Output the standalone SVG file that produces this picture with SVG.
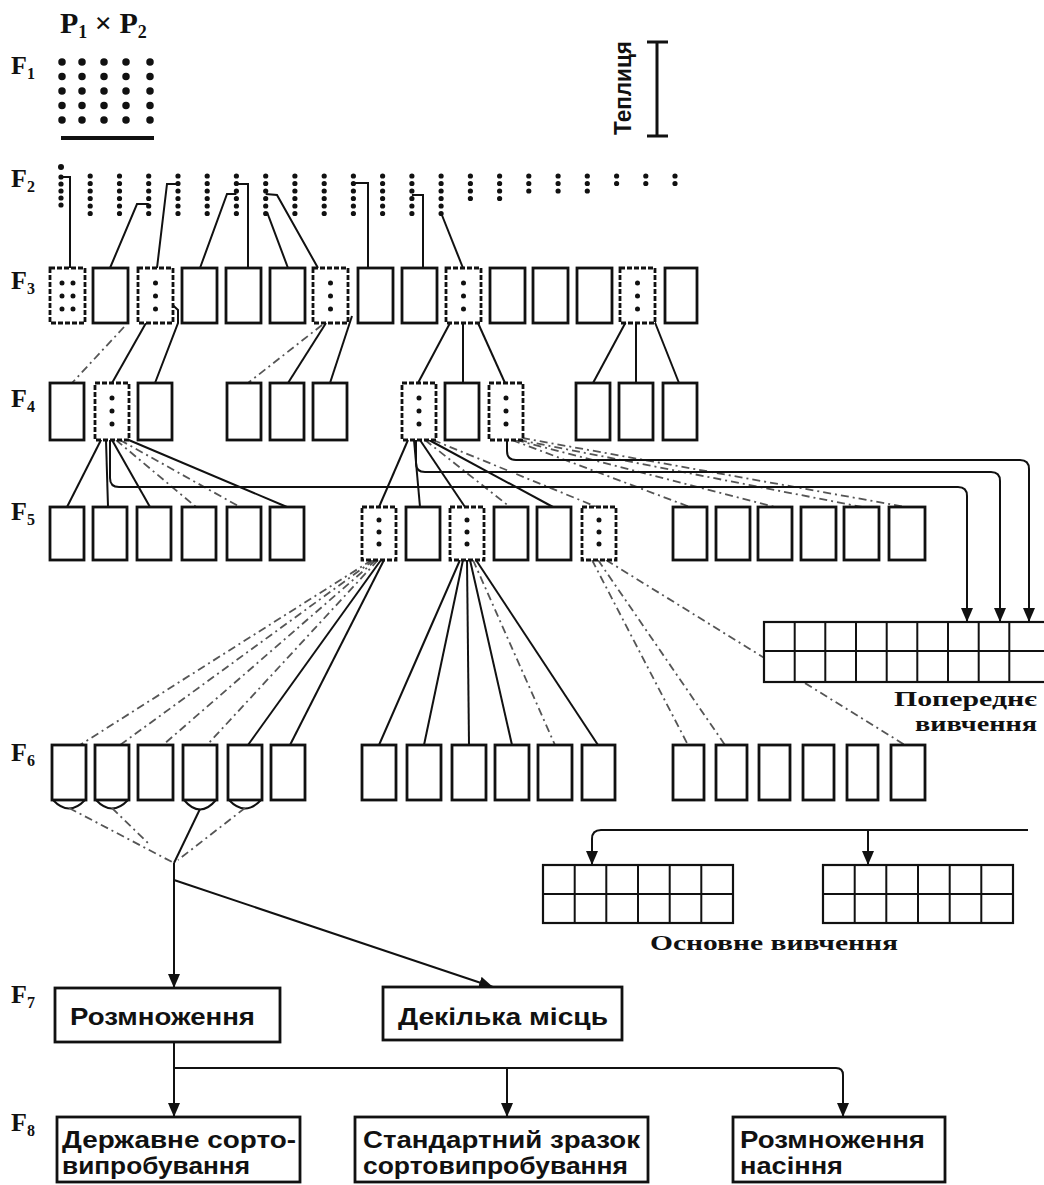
<svg xmlns="http://www.w3.org/2000/svg" width="1044" height="1185" viewBox="0 0 1044 1185">
<defs>
<style>
.bx{fill:#fff;stroke:#111;stroke-width:2.8}
.db{fill:#fff;stroke:#111;stroke-width:2.8;stroke-dasharray:5 2}
.dt{fill:none;stroke:#111;stroke-linecap:round}
.ln{fill:none;stroke:#111;stroke-width:2}
.dl{fill:none;stroke:#555;stroke-width:1.8;stroke-dasharray:8 4 2 4}
.ar{fill:none;stroke:#111;stroke-width:2;marker-end:url(#ah)}
.lab{font-family:"Liberation Serif",serif;font-weight:bold;font-size:26px;fill:#111}
.sub{font-size:16px}
.pp{font-size:30px}
.pp .sub{font-size:18px}
.bt{font-family:"Liberation Sans Narrow","Liberation Sans",sans-serif;font-weight:bold;font-size:24px;fill:#111}
.cap{font-family:"Liberation Serif",serif;font-weight:bold;font-size:22px;fill:#111}
.gr{fill:#fff;stroke:#111;stroke-width:2.2}
</style>
<marker id="ah" viewBox="0 0 14 12" refX="14" refY="6" markerWidth="14" markerHeight="12" markerUnits="userSpaceOnUse" orient="auto"><path d="M0,0 L14,6 L0,12 Z" fill="#111"/></marker>
</defs>
<rect width="1044" height="1185" fill="#fff"/>

<!-- generation labels -->
<g id="labels">
<text class="lab pp" x="60" y="33">P<tspan class="sub" dy="5">1</tspan><tspan dy="-5"> × P</tspan><tspan class="sub" dy="5">2</tspan></text>
<text class="lab" x="11" y="74">F<tspan class="sub" dy="5">1</tspan></text>
<text class="lab" x="11" y="187">F<tspan class="sub" dy="5">2</tspan></text>
<text class="lab" x="11" y="289">F<tspan class="sub" dy="5">3</tspan></text>
<text class="lab" x="11" y="407">F<tspan class="sub" dy="5">4</tspan></text>
<text class="lab" x="11" y="520">F<tspan class="sub" dy="5">5</tspan></text>
<text class="lab" x="11" y="761">F<tspan class="sub" dy="5">6</tspan></text>
<text class="lab" x="11" y="1003">F<tspan class="sub" dy="5">7</tspan></text>
<text class="lab" x="11" y="1131">F<tspan class="sub" dy="5">8</tspan></text>
</g>

<!-- F1 -->
<g id="f1">
<g class="dt" stroke-width="7.5" stroke-dasharray="0 14.5">
<line x1="62" y1="62" x2="62" y2="120.1"/>
<line x1="82" y1="62" x2="82" y2="120.1"/>
<line x1="104" y1="62" x2="104" y2="120.1"/>
<line x1="126" y1="62" x2="126" y2="120.1"/>
<line x1="150" y1="62" x2="150" y2="120.1"/>
</g>
<line x1="61" y1="138" x2="154" y2="138" stroke="#111" stroke-width="4"/>
</g>

<!-- Greenhouse -->
<g id="greenhouse">
<text class="bt" font-size="21" transform="translate(631,88) rotate(-90)" text-anchor="middle" textLength="94" lengthAdjust="spacingAndGlyphs">Теплиця</text>
<path d="M647,42 H668 M657,42 V136 M647,136 H668" fill="none" stroke="#111" stroke-width="3"/>
</g>

<!-- F2 -->
<g id="f2" class="dt" stroke-width="5.2">
<circle cx="61" cy="167" r="3" fill="#111" stroke="none"/>
<line x1="61" y1="177" x2="61" y2="205.1" stroke-dasharray="0 7"/>
<g stroke-dasharray="0 7.5">
<line x1="90.2" y1="176" x2="90.2" y2="213.6"/>
<line x1="119.5" y1="176" x2="119.5" y2="213.6"/>
<line x1="148.7" y1="176" x2="148.7" y2="213.6"/>
<line x1="178" y1="176" x2="178" y2="213.6"/>
<line x1="207.2" y1="176" x2="207.2" y2="213.6"/>
<line x1="236.4" y1="176" x2="236.4" y2="213.6"/>
<line x1="265.7" y1="176" x2="265.7" y2="213.6"/>
<line x1="294.9" y1="176" x2="294.9" y2="213.6"/>
<line x1="324.2" y1="176" x2="324.2" y2="213.6"/>
<line x1="353.4" y1="176" x2="353.4" y2="213.6"/>
<line x1="382.6" y1="176" x2="382.6" y2="213.6"/>
<line x1="411.9" y1="176" x2="411.9" y2="213.6"/>
<line x1="441.1" y1="176" x2="441.1" y2="213.6"/>
<line x1="470.4" y1="176" x2="470.4" y2="198.6"/>
<line x1="499.6" y1="176" x2="499.6" y2="198.6"/>
<line x1="528.8" y1="176" x2="528.8" y2="191.1"/>
<line x1="558.1" y1="176" x2="558.1" y2="191.1"/>
<line x1="587.3" y1="176" x2="587.3" y2="191.1"/>
<line x1="616.6" y1="176" x2="616.6" y2="183.6"/>
<line x1="645.8" y1="176" x2="645.8" y2="183.6"/>
<line x1="675" y1="176" x2="675" y2="183.6"/>
</g>
</g>

<!-- connectors -->
<g id="connectors">
<!-- F2 to F3 -->
<g class="ln">
<polyline points="61,177 70,177 70,268"/>
<polyline points="148.7,204 137,204 110,268"/>
<polyline points="178,184 167,184 157,268"/>
<polyline points="236.4,194 227,194 200,268"/>
<polyline points="236.4,184 248,184 248,268"/>
<polyline points="265.7,194 277,195 318,268"/>
<polyline points="267,212 288,268"/>
<polyline points="353.4,183 368,183 368,268"/>
<polyline points="411.9,195 423,195 423,268"/>
<polyline points="441.1,213 463,268"/>
</g>
<!-- F3 to F4 -->
<g class="ln">
<line x1="146" y1="323" x2="112" y2="383"/>
<polyline points="165,298 178,310 178,323 155,383"/>
<line x1="326" y1="323" x2="288" y2="383"/>
<line x1="352" y1="316" x2="330" y2="383"/>
<line x1="450" y1="323" x2="418" y2="383"/>
<line x1="463" y1="323" x2="463" y2="383"/>
<line x1="478" y1="323" x2="505" y2="383"/>
<line x1="628" y1="318" x2="593" y2="383"/>
<line x1="636" y1="323" x2="636" y2="383"/>
<line x1="654" y1="320" x2="679" y2="383"/>
</g>
<g class="dl">
<line x1="124" y1="327" x2="72" y2="383"/>
<line x1="322" y1="325" x2="248" y2="383"/>
</g>
<!-- F4 to F5 -->
<g class="ln">
<line x1="102" y1="438" x2="67" y2="507"/>
<line x1="106" y1="440" x2="108" y2="507"/>
<line x1="112" y1="440" x2="150" y2="507"/>
<line x1="124" y1="438" x2="287" y2="507"/>
<line x1="408" y1="440" x2="379" y2="507"/>
<line x1="414" y1="440" x2="420" y2="507"/>
<line x1="420" y1="440" x2="465" y2="507"/>
<line x1="429" y1="440" x2="553" y2="507"/>
</g>
<g class="dl">
<line x1="116" y1="440" x2="196" y2="507"/>
<line x1="120" y1="440" x2="240" y2="507"/>
<line x1="425" y1="440" x2="510" y2="507"/>
<line x1="433" y1="440" x2="597" y2="507"/>
<line x1="512" y1="440" x2="690" y2="507"/>
<line x1="516" y1="440" x2="775" y2="507"/>
<line x1="519" y1="440" x2="862" y2="507"/>
<line x1="522" y1="438" x2="906" y2="507"/>
</g>
<!-- to preliminary study -->
<path class="ar" d="M110,440 V478 Q110,487 119,487 H958 Q967,487 967,496 V622"/>
<path class="ar" d="M416,440 V463 Q416,472 425,472 H991 Q1000,472 1000,481 V622"/>
<path class="ar" d="M507,440 V451 Q507,460 516,460 H1020 Q1029,460 1029,469 V622"/>
<!-- F5 to F6 -->
<g class="dl">
<line x1="372" y1="560" x2="80" y2="745"/>
<line x1="374" y1="560" x2="120" y2="745"/>
<line x1="376" y1="560" x2="163" y2="745"/>
<line x1="378" y1="560" x2="207" y2="745"/>
<line x1="473" y1="560" x2="555" y2="745"/>
<line x1="592" y1="560" x2="688" y2="745"/>
<line x1="598" y1="560" x2="725" y2="745"/>
<line x1="606" y1="560" x2="905" y2="745"/>
</g>
<g class="ln">
<line x1="381" y1="560" x2="248" y2="745"/>
<line x1="384" y1="560" x2="290" y2="745"/>
<line x1="460" y1="560" x2="379" y2="745"/>
<line x1="463" y1="560" x2="424" y2="745"/>
<line x1="467" y1="560" x2="469" y2="745"/>
<line x1="470" y1="560" x2="512" y2="745"/>
<line x1="476" y1="560" x2="598" y2="745"/>
</g>
<!-- F6 to F7 -->
<g class="ln">
<path d="M53,800 Q69,817 85,800"/>
<path d="M96,800 Q112,817 128,800"/>
<path d="M184,800 Q200,819 216,800"/>
<path d="M229,800 Q245,817 261,800"/>
<line x1="200" y1="809" x2="174" y2="863"/>
</g>
<g class="dl" stroke="#222">
<line x1="69" y1="808" x2="174" y2="863"/>
<line x1="112" y1="808" x2="150" y2="845"/>
<line x1="245" y1="808" x2="178" y2="860"/>
</g>
<path class="ar" d="M174,863 V988"/>
<path class="ar" d="M174,880 L493,987"/>
<!-- F7 to F8 -->
<path class="ar" d="M174,1042 V1117"/>
<path class="ln" d="M174,1068 H836 Q843,1068 843,1075"/>
<path class="ar" d="M843,1075 V1117"/>
<path class="ar" d="M507,1068 V1117"/>
<!-- to main study -->
<path class="ar" d="M1028,830 H601 Q592,830 592,839 V865"/>
<path class="ar" d="M868,830 V865"/>
</g>

<!-- F3 -->
<g id="f3">
<rect class="db" x="50" y="268" width="35" height="55"/>
<rect class="bx" x="93" y="268" width="35" height="55"/>
<rect class="db" x="138" y="268" width="35" height="55"/>
<rect class="bx" x="182" y="268" width="35" height="55"/>
<rect class="bx" x="226" y="268" width="35" height="55"/>
<rect class="bx" x="270" y="268" width="35" height="55"/>
<rect class="db" x="313" y="268" width="35" height="55"/>
<rect class="bx" x="358" y="268" width="35" height="55"/>
<rect class="bx" x="402" y="268" width="35" height="55"/>
<rect class="db" x="446" y="268" width="35" height="55"/>
<rect class="bx" x="490" y="268" width="35" height="55"/>
<rect class="bx" x="533" y="268" width="35" height="55"/>
<rect class="bx" x="577" y="268" width="35" height="55"/>
<rect class="db" x="620" y="268" width="35" height="55"/>
<rect class="bx" x="665" y="268" width="32" height="55"/>
<g class="dt" stroke-width="5" stroke-dasharray="0 13">
<line x1="62" y1="283" x2="62" y2="309.1"/>
<line x1="73" y1="283" x2="73" y2="309.1"/>
<line x1="155.5" y1="283" x2="155.5" y2="309.1"/>
<line x1="330.5" y1="283" x2="330.5" y2="309.1"/>
<line x1="463.5" y1="283" x2="463.5" y2="309.1"/>
<line x1="637.5" y1="283" x2="637.5" y2="309.1"/>
</g>
</g>

<!-- F4 -->
<g id="f4">
<rect class="bx" x="50" y="383" width="34" height="57"/>
<rect class="db" x="95" y="383" width="34" height="57"/>
<rect class="bx" x="138" y="383" width="34" height="57"/>
<rect class="bx" x="227" y="383" width="34" height="57"/>
<rect class="bx" x="270" y="383" width="34" height="57"/>
<rect class="bx" x="313" y="383" width="34" height="57"/>
<rect class="db" x="402" y="383" width="34" height="57"/>
<rect class="bx" x="445" y="383" width="34" height="57"/>
<rect class="db" x="489" y="383" width="34" height="57"/>
<rect class="bx" x="576" y="383" width="34" height="57"/>
<rect class="bx" x="619" y="383" width="34" height="57"/>
<rect class="bx" x="663" y="383" width="34" height="57"/>
<g class="dt" stroke-width="5" stroke-dasharray="0 13">
<line x1="112" y1="398" x2="112" y2="424.1"/>
<line x1="419" y1="398" x2="419" y2="424.1"/>
<line x1="506" y1="398" x2="506" y2="424.1"/>
</g>
</g>

<!-- F5 -->
<g id="f5">
<rect class="bx" x="50" y="507" width="34" height="53"/>
<rect class="bx" x="93" y="507" width="34" height="53"/>
<rect class="bx" x="137" y="507" width="34" height="53"/>
<rect class="bx" x="182" y="507" width="34" height="53"/>
<rect class="bx" x="227" y="507" width="34" height="53"/>
<rect class="bx" x="270" y="507" width="34" height="53"/>
<rect class="db" x="362" y="507" width="34" height="53"/>
<rect class="bx" x="406" y="507" width="34" height="53"/>
<rect class="db" x="450" y="507" width="34" height="53"/>
<rect class="bx" x="494" y="507" width="34" height="53"/>
<rect class="bx" x="537" y="507" width="34" height="53"/>
<rect class="db" x="582" y="507" width="34" height="53"/>
<rect class="bx" x="673" y="507" width="34" height="53"/>
<rect class="bx" x="716" y="507" width="34" height="53"/>
<rect class="bx" x="758" y="507" width="34" height="53"/>
<rect class="bx" x="801" y="507" width="35" height="53"/>
<rect class="bx" x="844" y="507" width="35" height="53"/>
<rect class="bx" x="889" y="507" width="36" height="53"/>
<g class="dt" stroke-width="5" stroke-dasharray="0 12">
<line x1="379" y1="520" x2="379" y2="544.1"/>
<line x1="467" y1="520" x2="467" y2="544.1"/>
<line x1="599" y1="520" x2="599" y2="544.1"/>
</g>
</g>

<!-- F6 -->
<g id="f6">
<rect class="bx" x="52" y="745" width="34" height="55"/>
<rect class="bx" x="95" y="745" width="34" height="55"/>
<rect class="bx" x="138" y="745" width="35" height="55"/>
<rect class="bx" x="183" y="745" width="34" height="55"/>
<rect class="bx" x="228" y="745" width="34" height="55"/>
<rect class="bx" x="271" y="745" width="34" height="55"/>
<rect class="bx" x="362" y="745" width="34" height="55"/>
<rect class="bx" x="407" y="745" width="34" height="55"/>
<rect class="bx" x="452" y="745" width="34" height="55"/>
<rect class="bx" x="495" y="745" width="34" height="55"/>
<rect class="bx" x="538" y="745" width="34" height="55"/>
<rect class="bx" x="582" y="745" width="33" height="55"/>
<rect class="bx" x="673" y="745" width="31" height="55"/>
<rect class="bx" x="716" y="745" width="31" height="55"/>
<rect class="bx" x="759" y="745" width="31" height="55"/>
<rect class="bx" x="803" y="745" width="31" height="55"/>
<rect class="bx" x="847" y="745" width="31" height="55"/>
<rect class="bx" x="891" y="745" width="34" height="55"/>
</g>

<!-- Preliminary study -->
<g id="preliminary">
<rect class="gr" x="764" y="622" width="282" height="60"/>
<path class="ln" stroke-width="2.2" d="M764,651 H1044 M794.7,622 V682 M825.3,622 V682 M856,622 V682 M886.7,622 V682 M917.3,622 V682 M948,622 V682 M978.7,622 V682 M1009.3,622 V682"/>
<text class="cap" x="1037" y="706" text-anchor="end" textLength="143" lengthAdjust="spacingAndGlyphs">Попереднє</text>
<text class="cap" x="1037" y="731" text-anchor="end" textLength="122" lengthAdjust="spacingAndGlyphs">вивчення</text>
</g>

<!-- Main study -->
<g id="main-study">
<rect class="gr" x="543" y="865" width="190" height="58"/>
<path class="ln" stroke-width="2.2" d="M543,894 H733 M574.7,865 V923 M606.3,865 V923 M638,865 V923 M669.7,865 V923 M701.3,865 V923"/>
<rect class="gr" x="823" y="865" width="190" height="58"/>
<path class="ln" stroke-width="2.2" d="M823,894 H1013 M854.7,865 V923 M886.3,865 V923 M918,865 V923 M949.7,865 V923 M981.3,865 V923"/>
<text class="cap" x="650" y="950" textLength="248" lengthAdjust="spacingAndGlyphs">Основне вивчення</text>
</g>

<!-- F7 -->
<g id="f7-multiplication">
<rect class="bx" x="55" y="988" width="225" height="54"/>
<text class="bt" x="70" y="1025" textLength="185" lengthAdjust="spacingAndGlyphs">Розмноження</text>
</g>
<g id="f7-several-places">
<rect class="bx" x="383" y="987" width="239" height="53"/>
<text class="bt" x="398" y="1025" textLength="210" lengthAdjust="spacingAndGlyphs">Декілька місць</text>
</g>

<!-- F8 -->
<g id="f8-state-trial">
<rect class="bx" x="57" y="1117" width="243" height="65"/>
<text class="bt" x="62" y="1148" textLength="234" lengthAdjust="spacingAndGlyphs">Державне сорто-</text>
<text class="bt" x="62" y="1174" textLength="188" lengthAdjust="spacingAndGlyphs">випробування</text>
</g>
<g id="f8-standard">
<rect class="bx" x="355" y="1117" width="293" height="65"/>
<text class="bt" x="363" y="1148" textLength="277" lengthAdjust="spacingAndGlyphs">Стандартний зразок</text>
<text class="bt" x="363" y="1174" textLength="265" lengthAdjust="spacingAndGlyphs">сортовипробування</text>
</g>
<g id="f8-seed">
<rect class="bx" x="733" y="1117" width="212" height="65"/>
<text class="bt" x="740" y="1148" textLength="185" lengthAdjust="spacingAndGlyphs">Розмноження</text>
<text class="bt" x="740" y="1174" textLength="103" lengthAdjust="spacingAndGlyphs">насіння</text>
</g>
</svg>
